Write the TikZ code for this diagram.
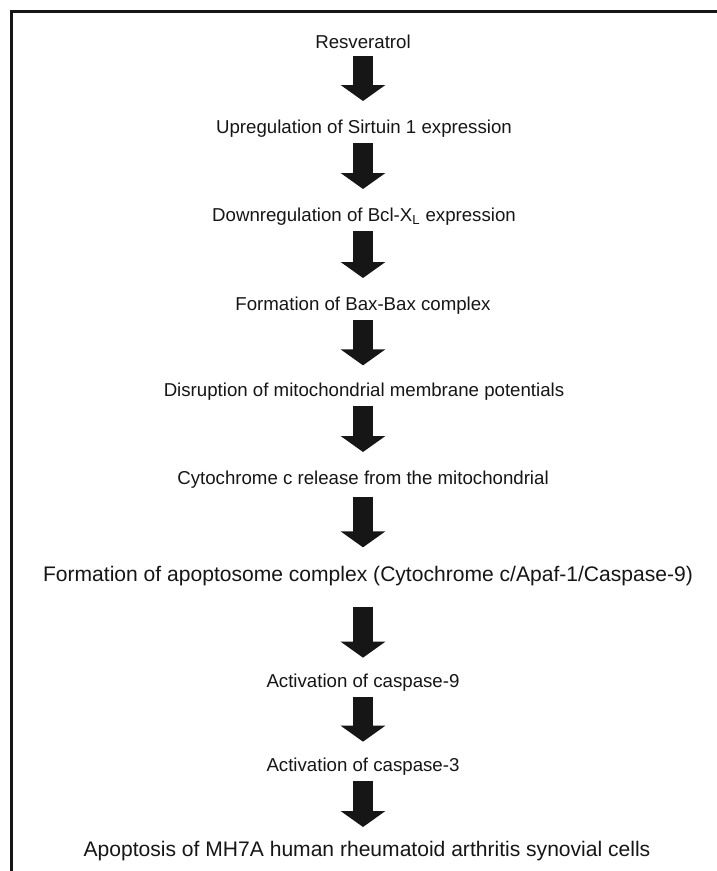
\documentclass[tikz,border=0pt]{standalone}
\usepackage{fontspec}
\setmainfont{Liberation Sans}
\usetikzlibrary{arrows.meta}
\definecolor{ink}{HTML}{161616}
\tikzset{
  lbl/.style={inner sep=0pt, text=ink, font=\fontsize{14}{16}\selectfont, anchor=center},
  biglbl/.style={lbl, font=\fontsize{15.8}{18}\selectfont},
  bigarrow/.style={draw=ink, line width=15pt, line cap=butt,
    -{Triangle[width=33pt, length=12pt]}, shorten <=#1},
  bigarrow/.default=10.5pt,
  frame/.style={draw=ink, line width=1.6pt}
}
\begin{document}
\begin{tikzpicture}[x=0.75pt, y=-0.75pt]
\useasboundingbox (0,0) rectangle (717,871);
\fill[white] (0,0) rectangle (717,871);
\coordinate (fr1) at (717,11.5);
\coordinate (fr2) at (11.5,11.5);
\coordinate (fr3) at (11.5,871);
\draw[frame] (fr1) -- (fr2) -- (fr3);
\coordinate (ax) at (363,0);

\node[lbl] (t1) at (363,42) {Resveratrol};
\node[lbl] (t2) at (364,129) {Upregulation of Sirtuin 1 expression};
\node[lbl] (t3) at (364,217) {Downregulation of Bcl-X\textsubscript{L} expression};
\node[lbl] (t4) at (363,306) {Formation of Bax-Bax complex};
\node[lbl] (t5) at (364,392) {Disruption of mitochondrial membrane potentials};
\node[lbl] (t6) at (363,480) {Cytochrome c release from the mitochondrial};
\node[biglbl] (t7) at (368,576) {Formation of apoptosome complex (Cytochrome c/Apaf-1/Caspase-9)};
\node[lbl] (t8) at (363,683) {Activation of caspase-9};
\node[lbl] (t9) at (363,767) {Activation of caspase-3};
\node[biglbl] (t10) at (367,851) {Apoptosis of MH7A human rheumatoid arthritis synovial cells};

\draw[bigarrow, shorten >=21pt] (ax |- t1.center) -- (ax |- t2.center);
\draw[bigarrow, shorten >=21pt] (ax |- t2.center) -- (ax |- t3.center);
\draw[bigarrow, shorten >=21pt] (ax |- t3.center) -- (ax |- t4.center);
\draw[bigarrow, shorten >=20pt] (ax |- t4.center) -- (ax |- t5.center);
\draw[bigarrow, shorten >=21pt] (ax |- t5.center) -- (ax |- t6.center);
\draw[bigarrow=12.5pt, shorten >=21.5pt] (ax |- t6.center) -- (ax |- t7.center);
\draw[bigarrow=23pt, shorten >=19pt] (ax |- t7.center) -- (ax |- t8.center);
\draw[bigarrow, shorten >=19pt] (ax |- t8.center) -- (ax |- t9.center);
\draw[bigarrow, shorten >=18pt] (ax |- t9.center) -- (ax |- t10.center);
\end{tikzpicture}
\end{document}
